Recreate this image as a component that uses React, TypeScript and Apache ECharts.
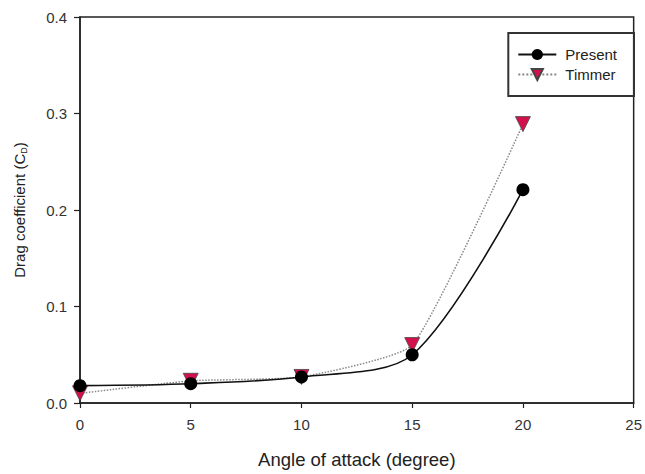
import React, { useEffect, useRef } from "react";
import * as echarts from "echarts";

const angles = [0, 5, 10, 15, 20];
const present = [0.018, 0.02, 0.027, 0.05, 0.221];
const timmer = [0.01, 0.023, 0.027, 0.06, 0.289];

export default function App() {
  const ref = useRef<HTMLDivElement>(null);
  useEffect(() => {
    const chart = echarts.init(ref.current!, null, { renderer: "svg" });
    const font = "Liberation Sans, Arial, sans-serif";
    chart.setOption({
      animation: false,
      backgroundColor: "#fff",
      textStyle: { fontFamily: font },
      grid: {
        left: 80,
        right: 6,
        top: 17,
        bottom: 67,
        show: true,
        borderColor: "#222",
        borderWidth: 1.5,
      },
      legend: {
        right: 11,
        top: 33,
        orient: "vertical",
        borderColor: "#333",
        borderWidth: 2,
        padding: [14, 17, 14, 9],
        itemGap: 5,
        itemWidth: 38,
        itemHeight: 14,
        textStyle: {
          fontSize: 15,
          lineHeight: 14,
          color: "#222",
          fontFamily: font,
          padding: [0, 0, 0, 4],
        },
        data: ["Present", "Timmer"],
      },
      xAxis: {
        type: "value",
        min: 0,
        max: 25,
        interval: 5,
        name: "Angle of attack (degree)",
        nameLocation: "middle",
        nameGap: 47,
        nameTextStyle: { fontSize: 18.5, color: "#222", fontFamily: font },
        axisLine: { lineStyle: { color: "#222", width: 1.5 } },
        axisTick: { show: true, length: 5, lineStyle: { color: "#222", width: 1.2 } },
        axisLabel: { fontSize: 15, color: "#333", margin: 14, fontFamily: font },
        splitLine: { show: false },
      },
      yAxis: {
        type: "value",
        min: 0,
        max: 0.4,
        interval: 0.1,
        name: "Drag coefficient (C{sub|D})",
        nameLocation: "middle",
        nameRotate: 90,
        nameGap: 52,
        nameTextStyle: {
          fontSize: 15,
          color: "#222",
          fontFamily: font,
          rich: { sub: { fontSize: 9, verticalAlign: "bottom", padding: [9, 0, 0, 0] } },
        },
        axisLine: { show: true, lineStyle: { color: "#222", width: 1.5 } },
        axisTick: { show: true, length: 6, lineStyle: { color: "#222", width: 1.2 } },
        axisLabel: {
          fontSize: 15,
          color: "#333",
          margin: 13,
          fontFamily: font,
          formatter: (v: number) => v.toFixed(1),
        },
        splitLine: { show: false },
      },
      series: [
        {
          name: "Timmer",
          type: "line",
          data: angles.map((a, i) => [a, timmer[i]]),
          smooth: 0.15,
          symbol: "triangle",
          symbolRotate: 180,
          symbolSize: 15,
          itemStyle: { color: "#d4104c", borderColor: "#444", borderWidth: 0.8 },
          lineStyle: { color: "#888", width: 1.5, type: "dotted" },
          z: 2,
        },
        {
          name: "Present",
          type: "line",
          data: angles.map((a, i) => [a, present[i]]),
          smooth: 0.3,
          symbol: "circle",
          symbolSize: 13,
          itemStyle: { color: "#000" },
          lineStyle: { color: "#111", width: 1.6 },
          z: 3,
        },
      ],
    });
    return () => chart.dispose();
  }, []);
  return (
    <div
      ref={ref}
      style={{ position: "fixed", left: 0, top: 0, width: 645, height: 474 }}
    />
  );
}
